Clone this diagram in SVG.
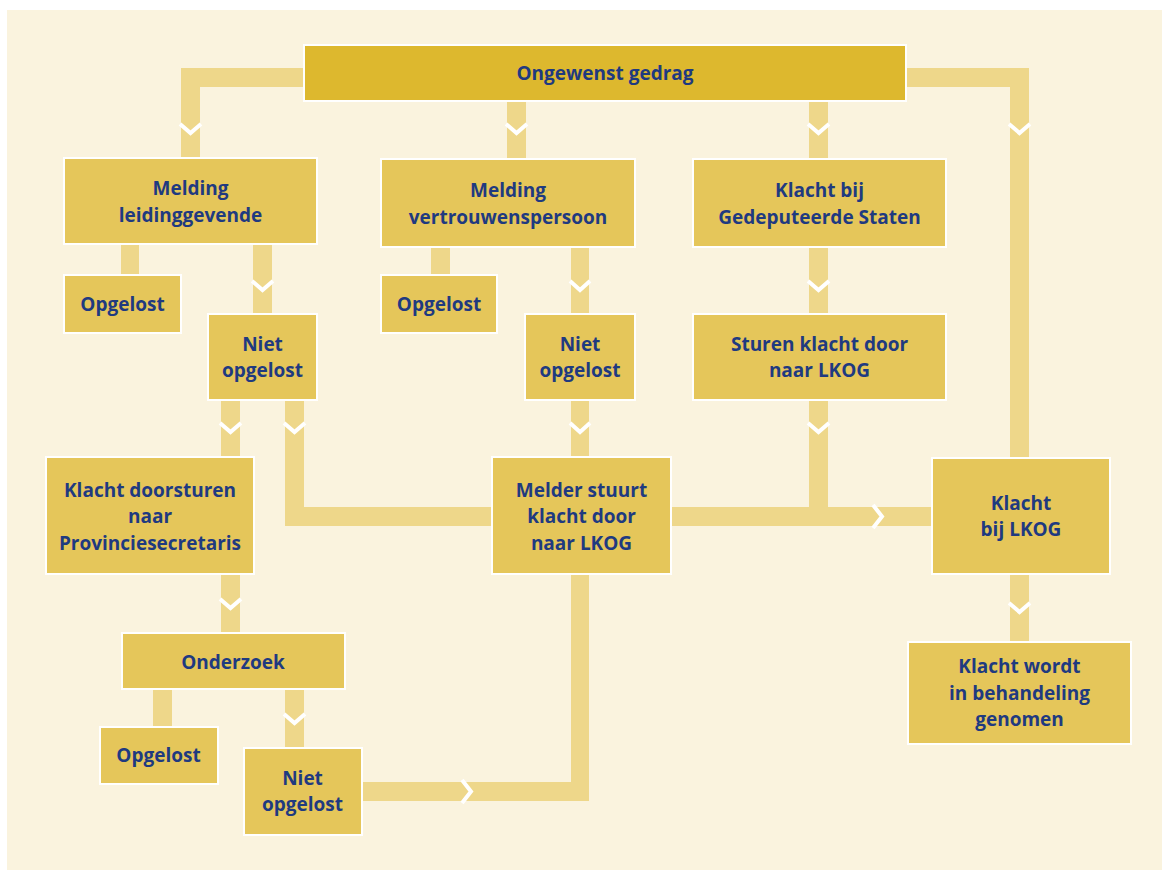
<svg xmlns="http://www.w3.org/2000/svg" width="1162" height="870" viewBox="0 0 1162 870">
<defs>
<style>
.bg{fill:#FAF3DE}
.n{fill:#E5C65A;stroke:#FFFFFF;stroke-width:2}
.top{fill:#DDB82E;stroke:#FFFFFF;stroke-width:2}
.c{fill:#EED78A}
.ch{fill:none;stroke:#FFFFFF;stroke-width:4;stroke-linejoin:miter}
text{font-family:"Open Sans","Noto Sans","DejaVu Sans",sans-serif;font-weight:bold;font-size:19px;fill:#1F3A80;text-anchor:middle}
</style>
</defs>
<rect x="0" y="0" width="1162" height="870" fill="#FFFFFF"/>
<rect class="bg" x="7" y="10" width="1155" height="860"/>
<g id="connectors">
<rect class="c" x="181" y="68" width="122" height="19"/>
<rect class="c" x="181" y="68" width="19" height="89"/>
<polyline class="ch" points="180,124 190.5,133 201,124"/>
<rect class="c" x="507" y="102" width="19" height="56"/>
<polyline class="ch" points="506,124 516.5,133 527,124"/>
<rect class="c" x="809" y="102" width="19" height="56"/>
<polyline class="ch" points="808,124 818.5,133 829,124"/>
<rect class="c" x="907" y="68" width="122" height="19"/>
<rect class="c" x="1010" y="68" width="19" height="389"/>
<polyline class="ch" points="1009,124 1019.5,133 1030,124"/>
<rect class="c" x="121" y="245" width="18" height="29"/>
<rect class="c" x="253" y="245" width="19" height="68"/>
<polyline class="ch" points="252,281 262.5,290 273,281"/>
<rect class="c" x="221" y="401" width="19" height="55"/>
<polyline class="ch" points="220,423 230.5,432 241,423"/>
<rect class="c" x="285" y="401" width="19" height="125"/>
<rect class="c" x="285" y="507" width="206" height="19"/>
<polyline class="ch" points="284,423 294.5,432 305,423"/>
<rect class="c" x="431" y="248" width="19" height="26"/>
<rect class="c" x="571" y="248" width="18" height="65"/>
<polyline class="ch" points="570,281 580,290 590,281"/>
<rect class="c" x="571" y="401" width="18" height="55"/>
<polyline class="ch" points="570,423 580,432 590,423"/>
<rect class="c" x="809" y="248" width="19" height="65"/>
<polyline class="ch" points="808,281 818.5,290 829,281"/>
<rect class="c" x="809" y="401" width="19" height="125"/>
<polyline class="ch" points="808,423 818.5,432 829,423"/>
<rect class="c" x="672" y="507" width="259" height="19"/>
<polyline class="ch" points="873,505 882,516.5 873,528"/>
<rect class="c" x="221" y="575" width="19" height="57"/>
<polyline class="ch" points="220,599 230.5,608 241,599"/>
<rect class="c" x="153" y="690" width="19" height="36"/>
<rect class="c" x="285" y="690" width="19" height="57"/>
<polyline class="ch" points="284,714 294.5,723 305,714"/>
<rect class="c" x="362" y="782" width="227" height="19"/>
<rect class="c" x="571" y="575" width="18" height="226"/>
<polyline class="ch" points="462,780 471,791.5 462,803"/>
<rect class="c" x="1010" y="575" width="19" height="66"/>
<polyline class="ch" points="1009,603 1019.5,612 1030,603"/>
</g>
<g id="n-ongewenst"><rect class="top" x="304" y="45" width="602" height="56"/><text x="605" y="80">Ongewenst gedrag</text></g>
<g id="n-melding-leiding"><rect class="n" x="64" y="158" width="253" height="86"/><text x="190.5" y="195">Melding</text><text x="190.5" y="221.5">leidinggevende</text></g>
<g id="n-melding-vertrouwen"><rect class="n" x="381" y="159" width="254" height="88"/><text x="508" y="197">Melding</text><text x="508" y="223.5">vertrouwenspersoon</text></g>
<g id="n-klacht-gs"><rect class="n" x="693" y="159" width="253" height="88"/><text x="819.5" y="197">Klacht bij</text><text x="819.5" y="223.5">Gedeputeerde Staten</text></g>
<g id="n-opgelost-1"><rect class="n" x="64" y="275" width="117" height="58"/><text x="122.5" y="311">Opgelost</text></g>
<g id="n-niet-opgelost-1"><rect class="n" x="208" y="314" width="109" height="86"/><text x="262.5" y="350.5">Niet</text><text x="262.5" y="377">opgelost</text></g>
<g id="n-opgelost-2"><rect class="n" x="381" y="275" width="116" height="58"/><text x="439" y="311">Opgelost</text></g>
<g id="n-niet-opgelost-2"><rect class="n" x="525" y="314" width="110" height="86"/><text x="580" y="350.5">Niet</text><text x="580" y="377">opgelost</text></g>
<g id="n-sturen-klacht"><rect class="n" x="693" y="314" width="253" height="86"/><text x="819.5" y="350.5">Sturen klacht door</text><text x="819.5" y="377">naar LKOG</text></g>
<g id="n-klacht-doorsturen"><rect class="n" x="46" y="457" width="208" height="117"/><text x="150" y="496.5">Klacht doorsturen</text><text x="150" y="523">naar</text><text x="150" y="549.5">Provinciesecretaris</text></g>
<g id="n-melder-stuurt"><rect class="n" x="492" y="457" width="179" height="117"/><text x="581.5" y="496.5">Melder stuurt</text><text x="581.5" y="523">klacht door</text><text x="581.5" y="549.5">naar LKOG</text></g>
<g id="n-klacht-lkog"><rect class="n" x="932" y="458" width="178" height="116"/><text x="1021" y="509.5">Klacht</text><text x="1021" y="536">bij LKOG</text></g>
<g id="n-onderzoek"><rect class="n" x="122" y="633" width="223" height="56"/><text x="233" y="668.5">Onderzoek</text></g>
<g id="n-klacht-behandeling"><rect class="n" x="908" y="642" width="223" height="102"/><text x="1019.5" y="673">Klacht wordt</text><text x="1019.5" y="699.5">in behandeling</text><text x="1019.5" y="726">genomen</text></g>
<g id="n-opgelost-3"><rect class="n" x="100" y="727" width="118" height="57"/><text x="158.5" y="762">Opgelost</text></g>
<g id="n-niet-opgelost-3"><rect class="n" x="244" y="748" width="118" height="87"/><text x="302.5" y="784.5">Niet</text><text x="302.5" y="811">opgelost</text></g>
</svg>
